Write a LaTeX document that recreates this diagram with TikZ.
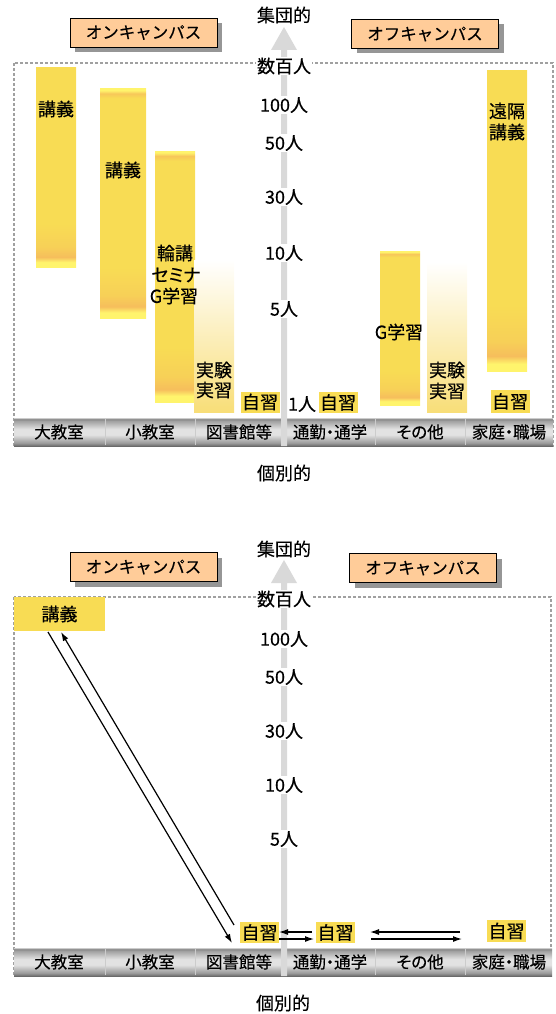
\documentclass[tikz,border=0pt]{standalone}
\usepackage{fontspec}
\setmainfont{Noto Sans CJK JP}[FakeBold=0.4]
\newfontfamily\pfont{Noto Sans CJK JP}[RawFeature=+palt,FakeBold=0.4]
\usetikzlibrary{arrows.meta,shadows}
\definecolor{peach}{HTML}{FFCC99}
\definecolor{gold}{HTML}{F8DC54}
\definecolor{goldor}{HTML}{F6BE5C}
\definecolor{goldlt}{HTML}{FFF46C}
\definecolor{fadey}{HTML}{F8DE78}
\definecolor{axisgray}{HTML}{D9D9D9}
\definecolor{framegray}{HTML}{A0A0A0}
\definecolor{shadowgray}{HTML}{969696}
\definecolor{mzero}{HTML}{6A6A6A}
\definecolor{mone}{HTML}{989898}
\definecolor{mtwo}{HTML}{E2E2E2}
\definecolor{mthree}{HTML}{A0A0A0}
\definecolor{mfour}{HTML}{828282}
\definecolor{mfive}{HTML}{CCCCCC}
\pgfdeclareverticalshading{barflat}{100bp}{color(0bp)=(goldlt); color(25bp)=(goldlt); color(26.2bp)=(goldlt); color(27.5bp)=(goldor); color(30bp)=(gold!60!goldor); color(36bp)=(gold); color(100bp)=(gold)}
\pgfdeclareverticalshading{bartop}{100bp}{color(0bp)=(goldlt); color(25bp)=(goldlt); color(26.2bp)=(goldlt); color(27.5bp)=(goldor); color(30bp)=(gold!60!goldor); color(36bp)=(gold); color(73bp)=(gold); color(74bp)=(goldor!70!gold); color(74.7bp)=(goldlt); color(100bp)=(goldlt)}
\pgfdeclareverticalshading{metal}{100bp}{color(0bp)=(mzero); color(25bp)=(mzero); color(30bp)=(mone); color(45bp)=(mtwo); color(55bp)=(mtwo); color(70bp)=(mthree); color(73bp)=(mfour); color(74bp)=(mfive); color(100bp)=(mfive)}
\tikzset{
  every node/.style={inner sep=0pt, outer sep=0pt},
  lbl/.style={font=\fontsize{18}{20}\selectfont},
  plbl/.style={font=\pfont\fontsize{18}{20}\selectfont},
  axl/.style={font=\fontsize{18}{20}\selectfont, fill=white, inner sep=1pt},
  cat/.style={font=\pfont\fontsize{16.5}{18}\selectfont},
  campus/.style={draw=black, line width=0.8pt, fill=peach, font=\fontsize{16.5}{18}\selectfont,
    minimum width=147pt, minimum height=29pt,
    general shadow={fill=shadowgray, shadow xshift=5pt, shadow yshift=-5pt}},
  selfbox/.style={fill=gold, minimum width=39pt, minimum height=21pt, font=\fontsize{18}{20}\selectfont},
  dframe/.style={draw=framegray, line width=1.2pt, dash pattern=on 3pt off 2pt},
  conn/.style={line width=1.2pt, -{Latex[length=9pt,width=6pt]}},
  divider/.style={draw=mfive, line width=0.8pt},
}
\begin{document}
\begin{tikzpicture}[x=1pt,y=-1pt]
\useasboundingbox (0,0) rectangle (556,1014);
%================ TOP PANEL ================
\path[dframe] (14,63) rectangle (553,446);
\shade[shading=metal] (14,418) rectangle (553,446);
\foreach \xx in {105,195,375,465} \draw[divider] (\xx,419) -- (\xx,445);
\fill[axisgray] (281,446) -- (281,50) -- (271,50) -- (284,27) -- (297,50) -- (287,50) -- (287,446) -- cycle;
% bars
\shade[shading=barflat] (36,68) rectangle (76,267);
\shade[shading=bartop] (100,89) rectangle (146,318);
\shade[shading=bartop] (155,151) rectangle (195,402);
\shade[top color=white, bottom color=fadey] (194,260) rectangle (234,412);
\shade[shading=bartop] (380,251) rectangle (420,405);
\shade[top color=white, bottom color=fadey] (427,262) rectangle (467,412);
\shade[shading=barflat] (487,71) rectangle (527,371);
% campus labels
\node[campus] (onA) at (143.5,32.5) {オンキャンパス};
\node[campus] (offA) at (425,34) {オフキャンパス};
% axis labels
\node[lbl] (topA) at (284,15) {集団的};
\node[axl] (nA0) at (284,66) {数百人};
\node[axl] (nA1) at (284,105) {100人};
\node[axl] (nA2) at (284,143) {50人};
\node[axl] (nA3) at (284,197) {30人};
\node[axl] (nA4) at (284,253) {10人};
\node[axl] (nA5) at (284,309) {5人};
\node[lbl] (nA6) at (302,404) {1人};
\node[lbl] (botA) at (284,473) {個別的};
% bar labels
\node[lbl] (t1) at (56,109) {講義};
\node[lbl] (t2) at (123,170) {講義};
\node[lbl] (t3a) at (175,253) {輪講};
\node[plbl] (t3b) at (176,275) {セミナ};
\node[lbl] (t3c) at (174,296) {G学習};
\node[lbl] (t4a) at (214,370) {実験};
\node[lbl] (t4b) at (214,390) {実習};
\node[lbl] (t5) at (399,332) {G学習};
\node[lbl] (t6a) at (447,370) {実験};
\node[lbl] (t6b) at (447,391) {実習};
\node[lbl] (t7a) at (507,111) {遠隔};
\node[lbl] (t7b) at (507,132) {講義};
\node[selfbox] (sA1) at (260,402) {自習};
\node[selfbox] (sA2) at (338,402.5) {自習};
\node[selfbox, minimum height=23pt] (sA3) at (510,401.5) {自習};
% categories
\node[cat] (cA1) at (59,432) {大教室};
\node[cat] (cA2) at (150,432) {小教室};
\node[cat] (cA3) at (239,432) {図書館等};
\node[cat] (cA4) at (330,432) {通勤・通学};
\node[cat] (cA5) at (420,432) {その他};
\node[cat] (cA6) at (509,432) {家庭・職場};
%================ BOTTOM PANEL ================
\path[dframe] (14,597) rectangle (551,976);
\shade[shading=metal] (14,948) rectangle (552,976);
\foreach \xx in {105,195,375,465} \draw[divider] (\xx,949) -- (\xx,975);
\fill[axisgray] (281,976) -- (281,583) -- (271,583) -- (284,560) -- (297,583) -- (287,583) -- (287,976) -- cycle;
\node[campus] (onB) at (143.5,567) {オンキャンパス};
\node[campus] (offB) at (423,568) {オフキャンパス};
\node[lbl] (topB) at (284,549) {集団的};
\node[axl] (nB0) at (284,599) {数百人};
\node[axl] (nB1) at (284,639) {100人};
\node[axl] (nB2) at (284,677) {50人};
\node[axl] (nB3) at (284,731) {30人};
\node[axl] (nB4) at (284,785) {10人};
\node[axl] (nB5) at (284,839) {5人};
\node[lbl] (botB) at (283,1003) {個別的};
\node[fill=gold, minimum width=91pt, minimum height=34pt, font=\fontsize{18}{20}\selectfont] (lecB) at (59.5,614) {講義};
\node[selfbox] (sB1) at (259.5,932.5) {自習};
\node[selfbox] (sB2) at (335.5,932.5) {自習};
\node[selfbox, minimum height=22pt] (sB3) at (506.5,931) {自習};
\node[cat] (cB1) at (59,962) {大教室};
\node[cat] (cB2) at (150,962) {小教室};
\node[cat] (cB3) at (239,962) {図書館等};
\node[cat] (cB4) at (330,962) {通勤・通学};
\node[cat] (cB5) at (420,962) {その他};
\node[cat] (cB6) at (509,962) {家庭・職場};
% connector ends
\coordinate (a1) at (48,632);
\coordinate (a2) at (232,943);
\coordinate (b1) at (234,925);
\coordinate (b2) at (61,632);
\coordinate (c1) at (312,932);
\coordinate (c2) at (279,932);
\coordinate (d1) at (279,939);
\coordinate (d2) at (314,939);
\coordinate (e1) at (460,932);
\coordinate (e2) at (370,932);
\coordinate (f1) at (371,939);
\coordinate (f2) at (462,939);
\draw[conn] (a1) -- (a2);
\draw[conn] (b1) -- (b2);
\draw[conn] (c1) -- (c2);
\draw[conn] (d1) -- (d2);
\draw[conn] (e1) -- (e2);
\draw[conn] (f1) -- (f2);
\end{tikzpicture}
\end{document}
